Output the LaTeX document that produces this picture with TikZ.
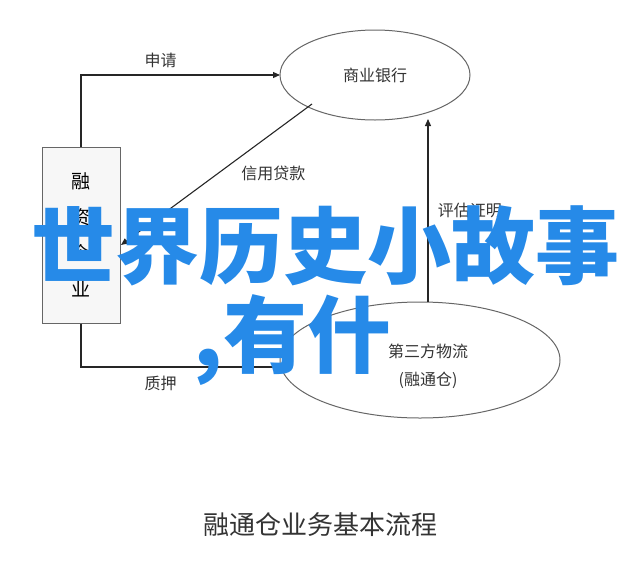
\documentclass[tikz,border=0pt]{standalone}
\usepackage{fontspec}
\setmainfont{Noto Sans CJK SC}
\usetikzlibrary{arrows.meta}
\definecolor{wmblue}{RGB}{38,138,232}
\begin{document}
\begin{tikzpicture}[x=1pt,y=-1pt,
    line/.style={draw=black!85, line width=1.1pt},
    arr/.style={line, -{Triangle[length=7pt,width=6pt]}},
    lbl/.style={font=\fontsize{16}{18}\selectfont, text=black!80}]
  \useasboundingbox (0,0) rectangle (640,568);
  % parties
  \node[draw=black!60, fill=black!3, line width=1pt, minimum width=78pt, minimum height=176pt,
        align=center, font=\fontsize{19}{36}\selectfont] (firm) at (81,235) {融\\资\\企\\业};
  \draw[black!60, line width=1pt] (375,75) ellipse [x radius=95, y radius=45];
  \node[lbl, font=\fontsize{16}{18}\selectfont] (bank) at (375,75) {商业银行};
  \draw[black!60, line width=1pt] (420,360) ellipse [x radius=140, y radius=58];
  \node[lbl, align=center, font=\fontsize{16}{28}\selectfont] (logi) at (428,366) {第三方物流\\(融通仓)};
  \coordinate (bankL) at (280,75);
  \coordinate (bankB) at (428,119);
  \coordinate (bankS) at (312,104);
  \coordinate (logiL) at (280,367);
  \coordinate (logiT) at (428,302);
  \coordinate (firmR) at (121,245);
  % flows
  \draw[arr] (firm.north) |- (bankL) node[lbl, pos=0.7, above=3pt] {申请};
  \draw[arr] (bankS) -- (firmR) node[lbl, pos=0.4, below right=2pt] {信用贷款};
  \draw[arr] (logiT) -- (bankB) node[lbl, midway, right=6pt] {评估证明};
  \draw[arr] (firm.south) |- (logiL) node[lbl, pos=0.7, below=5pt] {质押};
  % title
  \node[font=\fontsize{26}{28}\selectfont, text=black!80] (title) at (320,525) {融通仓业务基本流程};
  % overlay
  \node[font=\fontsize{84}{84}\selectfont\bfseries, text=wmblue, anchor=west] (wm1) at (28,246) {世界历史小故事};
  \node[font=\fontsize{84}{84}\selectfont\bfseries, text=wmblue, anchor=west] (wm2) at (190,340) {,有什};
\end{tikzpicture}
\end{document}
